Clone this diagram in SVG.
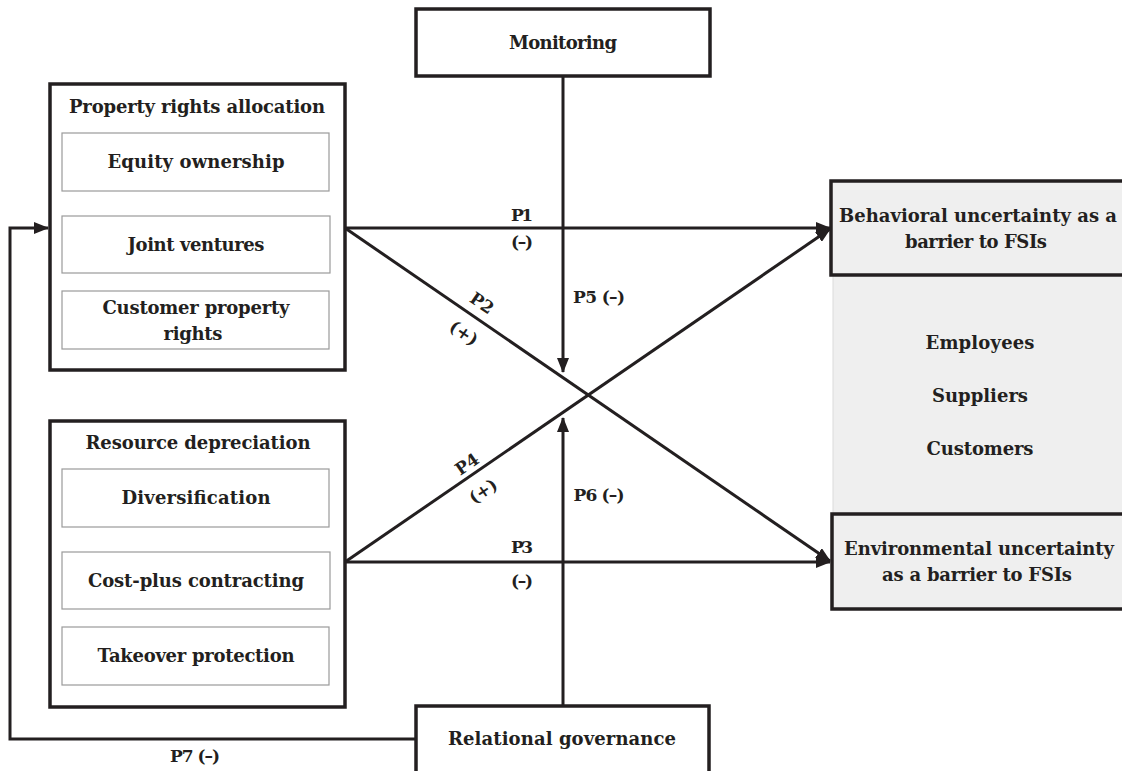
<svg xmlns="http://www.w3.org/2000/svg" width="1122" height="771" viewBox="0 0 1122 771">
<style>
text{font-family:"DejaVu Serif","Liberation Serif",serif;font-weight:bold;fill:#231f20;font-size:18px;text-anchor:middle}
.lbl{font-size:17px}
.outer{fill:#fff;stroke:#231f20;stroke-width:3.5}
.inner{fill:#fff;stroke:#9a9a9a;stroke-width:1.2}
.grey{fill:#efefef;stroke:#231f20;stroke-width:3.5}
.conn{fill:none;stroke:#231f20;stroke-width:3}
</style>
<defs>
<marker id="ah" markerUnits="userSpaceOnUse" markerWidth="16" markerHeight="12" refX="14" refY="6" orient="auto">
<path d="M0,0 L15,6 L0,12 z" fill="#231f20"/>
</marker>
</defs>
<rect width="1122" height="771" fill="#fff"/>

<g id="uncertainty-panel">
<rect x="833" y="275" width="295" height="240" fill="#efefef" stroke="#dcdcdc" stroke-width="1"/>
<text x="980" y="349" textLength="109">Employees</text>
<text x="980" y="402" textLength="96">Suppliers</text>
<text x="980" y="455" textLength="107">Customers</text>
</g>

<g id="connectors">
<path class="conn" d="M563,76 V372" marker-end="url(#ah)"/>
<path class="conn" d="M563,706 V418" marker-end="url(#ah)"/>
<path class="conn" d="M345,228 H830" marker-end="url(#ah)"/>
<path class="conn" d="M345,562 L830,229" marker-end="url(#ah)"/>
<path class="conn" d="M345,228 L830,561" marker-end="url(#ah)"/>
<path class="conn" d="M345,562 H830" marker-end="url(#ah)"/>
<path class="conn" d="M416,739 H10 V228 H48" marker-end="url(#ah)"/>
<text class="lbl" x="522" y="221" textLength="22">P1</text>
<text class="lbl" x="522" y="248" textLength="22">(–)</text>
<text class="lbl" x="522" y="553" textLength="22">P3</text>
<text class="lbl" x="522" y="587" textLength="22">(–)</text>
<text class="lbl" x="599" y="303" textLength="52">P5 (–)</text>
<text class="lbl" x="599" y="501" textLength="51">P6 (–)</text>
<text class="lbl" x="195" y="762" textLength="50">P7 (–)</text>
<text class="lbl" x="482" y="309" transform="rotate(34.5 482 303)">P2</text>
<text class="lbl" x="464" y="339" transform="rotate(34.5 464 333)">(+)</text>
<text class="lbl" x="467" y="470" transform="rotate(-34.5 467 464)">P4</text>
<text class="lbl" x="483" y="497" transform="rotate(-34.5 483 491)">(+)</text>
</g>

<g id="monitoring">
<rect class="outer" x="416" y="9" width="294" height="67"/>
<text x="563" y="49" textLength="108">Monitoring</text>
</g>

<g id="relational-governance">
<rect class="outer" x="416" y="706" width="293" height="80"/>
<text x="562" y="745" textLength="228">Relational governance</text>
</g>

<g id="property-rights">
<rect class="outer" x="50" y="84" width="295" height="286"/>
<text x="197" y="113" textLength="256">Property rights allocation</text>
<rect class="inner" x="62" y="133" width="267" height="58"/>
<text x="196" y="168" textLength="177">Equity ownership</text>
<rect class="inner" x="62" y="216" width="268" height="57"/>
<text x="196" y="251" textLength="137">Joint ventures</text>
<rect class="inner" x="62" y="291" width="267" height="58"/>
<text x="196" y="314" textLength="187">Customer property</text>
<text x="193" y="340" textLength="59">rights</text>
</g>

<g id="resource-depreciation">
<rect class="outer" x="50" y="421" width="295" height="286"/>
<text x="198" y="449" textLength="225">Resource depreciation</text>
<rect class="inner" x="62" y="469" width="267" height="58"/>
<text x="196" y="504" textLength="149">Diversification</text>
<rect class="inner" x="62" y="552" width="268" height="57"/>
<text x="196" y="587" textLength="216">Cost-plus contracting</text>
<rect class="inner" x="62" y="627" width="267" height="58"/>
<text x="196" y="662" textLength="197">Takeover protection</text>
</g>

<g id="behavioral-uncertainty">
<rect class="grey" x="831" y="181" width="300" height="94"/>
<text x="978" y="222" textLength="278">Behavioral uncertainty as a</text>
<text x="976" y="248" textLength="142">barrier to FSIs</text>
</g>

<g id="environmental-uncertainty">
<rect class="grey" x="832" y="514" width="300" height="95"/>
<text x="979" y="555" textLength="270">Environmental uncertainty</text>
<text x="977" y="581" textLength="190">as a barrier to FSIs</text>
</g>
</svg>
